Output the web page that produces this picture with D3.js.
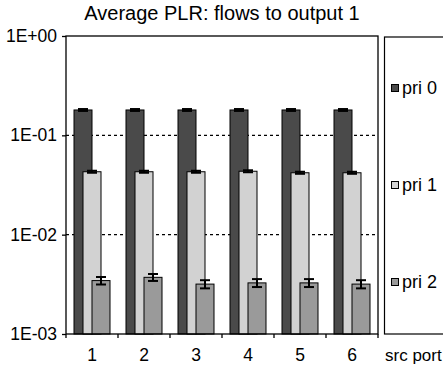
<!DOCTYPE html>
<html>
<head>
<meta charset="utf-8">
<script src="https://cdn.jsdelivr.net/npm/d3@7"></script>
<style>
  body { margin: 0; background: #fff; }
  svg { display: block; font-family: Arial, "Liberation Sans", sans-serif; }
</style>
</head>
<body>
<script>
// values
const ports = ["1", "2", "3", "4", "5", "6"]
const seriesNames = ["pri 0", "pri 1", "pri 2"]
const pri0 = [0.18, 0.18, 0.18, 0.18, 0.18, 0.18]
const pri1 = [0.043, 0.043, 0.043, 0.0435, 0.042, 0.042]
const pri2 = [0.00345, 0.00372, 0.00318, 0.00327, 0.00327, 0.00318]
const err0 = [0.004, 0.004, 0.004, 0.004, 0.004, 0.004]
const err1 = [0.001, 0.001, 0.001, 0.001, 0.001, 0.001]
const err2 = [0.0003, 0.0003, 0.0003, 0.0003, 0.0003, 0.0003]
const yTicks = [1, 0.1, 0.01, 0.001]
const yTickLabels = ["1E+00", "1E-01", "1E-02", "1E-03"]
const gridValues = [0.1, 0.01]

const width = 443, height = 367
const plot = {left: 66, right: 378, top: 36, bottom: 334}
const colors = ["#4a4a4a", "#d2d2d2", "#9a9a9a"]

const values = [pri0, pri1, pri2]
const errors = [err0, err1, err2]

const svg = d3.select("body").append("svg")
    .attr("width", width)
    .attr("height", height)

svg.append("text")
    .attr("x", 222)
    .attr("y", 20)
    .attr("text-anchor", "middle")
    .style("font-size", "20px")
    .text("Average PLR: flows to output 1")

const x = d3.scaleBand().domain(ports).range([plot.left, plot.right])
const y = d3.scaleLog().domain([0.001, 1]).range([plot.bottom, plot.top])

const bw = x.bandwidth()
const barW = bw * 18 / 52
const step = barW / 2
const start = (bw - (barW + 2 * step)) / 2

// dashed gridlines
svg.append("g")
    .selectAll("line")
    .data(gridValues)
    .join("line")
    .attr("x1", plot.left)
    .attr("x2", plot.right)
    .attr("y1", d => y(d))
    .attr("y2", d => y(d))
    .attr("stroke", "#000")
    .attr("stroke-width", 1.2)
    .attr("stroke-dasharray", "3,3")

// bars: each series drawn over the previous one
const rows = values.map((vals, s) => ports.map((p, i) => ({s, port: p, v: vals[i], e: errors[s][i]})))

rows.forEach((row, s) => {
    const g = svg.append("g")
    g.selectAll("rect")
        .data(row)
        .join("rect")
        .attr("x", d => x(d.port) + start + s * step)
        .attr("y", d => y(d.v))
        .attr("width", barW)
        .attr("height", d => plot.bottom - y(d.v))
        .attr("fill", colors[s])
        .attr("stroke", "#000")
        .attr("stroke-width", 1)

    const eb = g.selectAll("g")
        .data(row)
        .join("g")
        .attr("stroke", "#000")
        .attr("stroke-width", 2)
    const cx = d => x(d.port) + start + s * step + barW / 2
    eb.append("line")
        .attr("x1", cx).attr("x2", cx)
        .attr("y1", d => y(d.v + d.e))
        .attr("y2", d => y(d.v - d.e))
    eb.append("line")
        .attr("x1", d => cx(d) - 5).attr("x2", d => cx(d) + 5)
        .attr("y1", d => y(d.v + d.e)).attr("y2", d => y(d.v + d.e))
    eb.append("line")
        .attr("x1", d => cx(d) - 5).attr("x2", d => cx(d) + 5)
        .attr("y1", d => y(d.v - d.e)).attr("y2", d => y(d.v - d.e))
})

// plot frame
svg.append("rect")
    .attr("x", plot.left)
    .attr("y", plot.top)
    .attr("width", plot.right - plot.left)
    .attr("height", plot.bottom - plot.top)
    .attr("fill", "none")
    .attr("stroke", "#000")
    .attr("stroke-width", 1.3)

// y axis
const yAxis = svg.append("g")
    .attr("transform", `translate(${plot.left},0)`)
    .call(d3.axisLeft(y).tickValues(yTicks).tickSize(4).tickPadding(5)
        .tickFormat((d, i) => yTickLabels[i]))
yAxis.select(".domain").remove()
yAxis.selectAll("line").attr("stroke-width", 1.3)
yAxis.selectAll("text").style("font-size", "17.5px").attr("fill", "#000")

// x axis: labels at centres, ticks on the group boundaries
const xAxis = svg.append("g")
    .attr("transform", `translate(0,${plot.bottom})`)
    .call(d3.axisBottom(x).tickSize(0).tickPadding(15))
xAxis.select(".domain").remove()
xAxis.selectAll("text").style("font-size", "17.5px").attr("fill", "#000")

svg.append("g")
    .selectAll("line")
    .data(ports.map(p => x(p)).concat([plot.right]))
    .join("line")
    .attr("x1", d => d).attr("x2", d => d)
    .attr("y1", plot.bottom).attr("y2", plot.bottom + 4)
    .attr("stroke", "#000")
    .attr("stroke-width", 1.3)

svg.append("text")
    .attr("x", 385)
    .attr("y", 361)
    .style("font-size", "17px")
    .text("src port")

// legend
svg.append("rect")
    .attr("x", 384.5)
    .attr("y", 37)
    .attr("width", 80)
    .attr("height", 297)
    .attr("fill", "none")
    .attr("stroke", "#000")
    .attr("stroke-width", 1.2)

const legendY = d3.scalePoint().domain(seriesNames).range([88, 282])
const item = svg.append("g")
    .selectAll("g")
    .data(seriesNames)
    .join("g")
    .attr("transform", d => `translate(391,${legendY(d)})`)
item.append("rect")
    .attr("x", 0.5).attr("y", -3.5)
    .attr("width", 7).attr("height", 7)
    .attr("fill", (d, i) => colors[i])
    .attr("stroke", "#000")
item.append("text")
    .attr("x", 11)
    .attr("dy", "0.35em")
    .style("font-size", "18px")
    .text(d => d)
</script>
</body>
</html>
